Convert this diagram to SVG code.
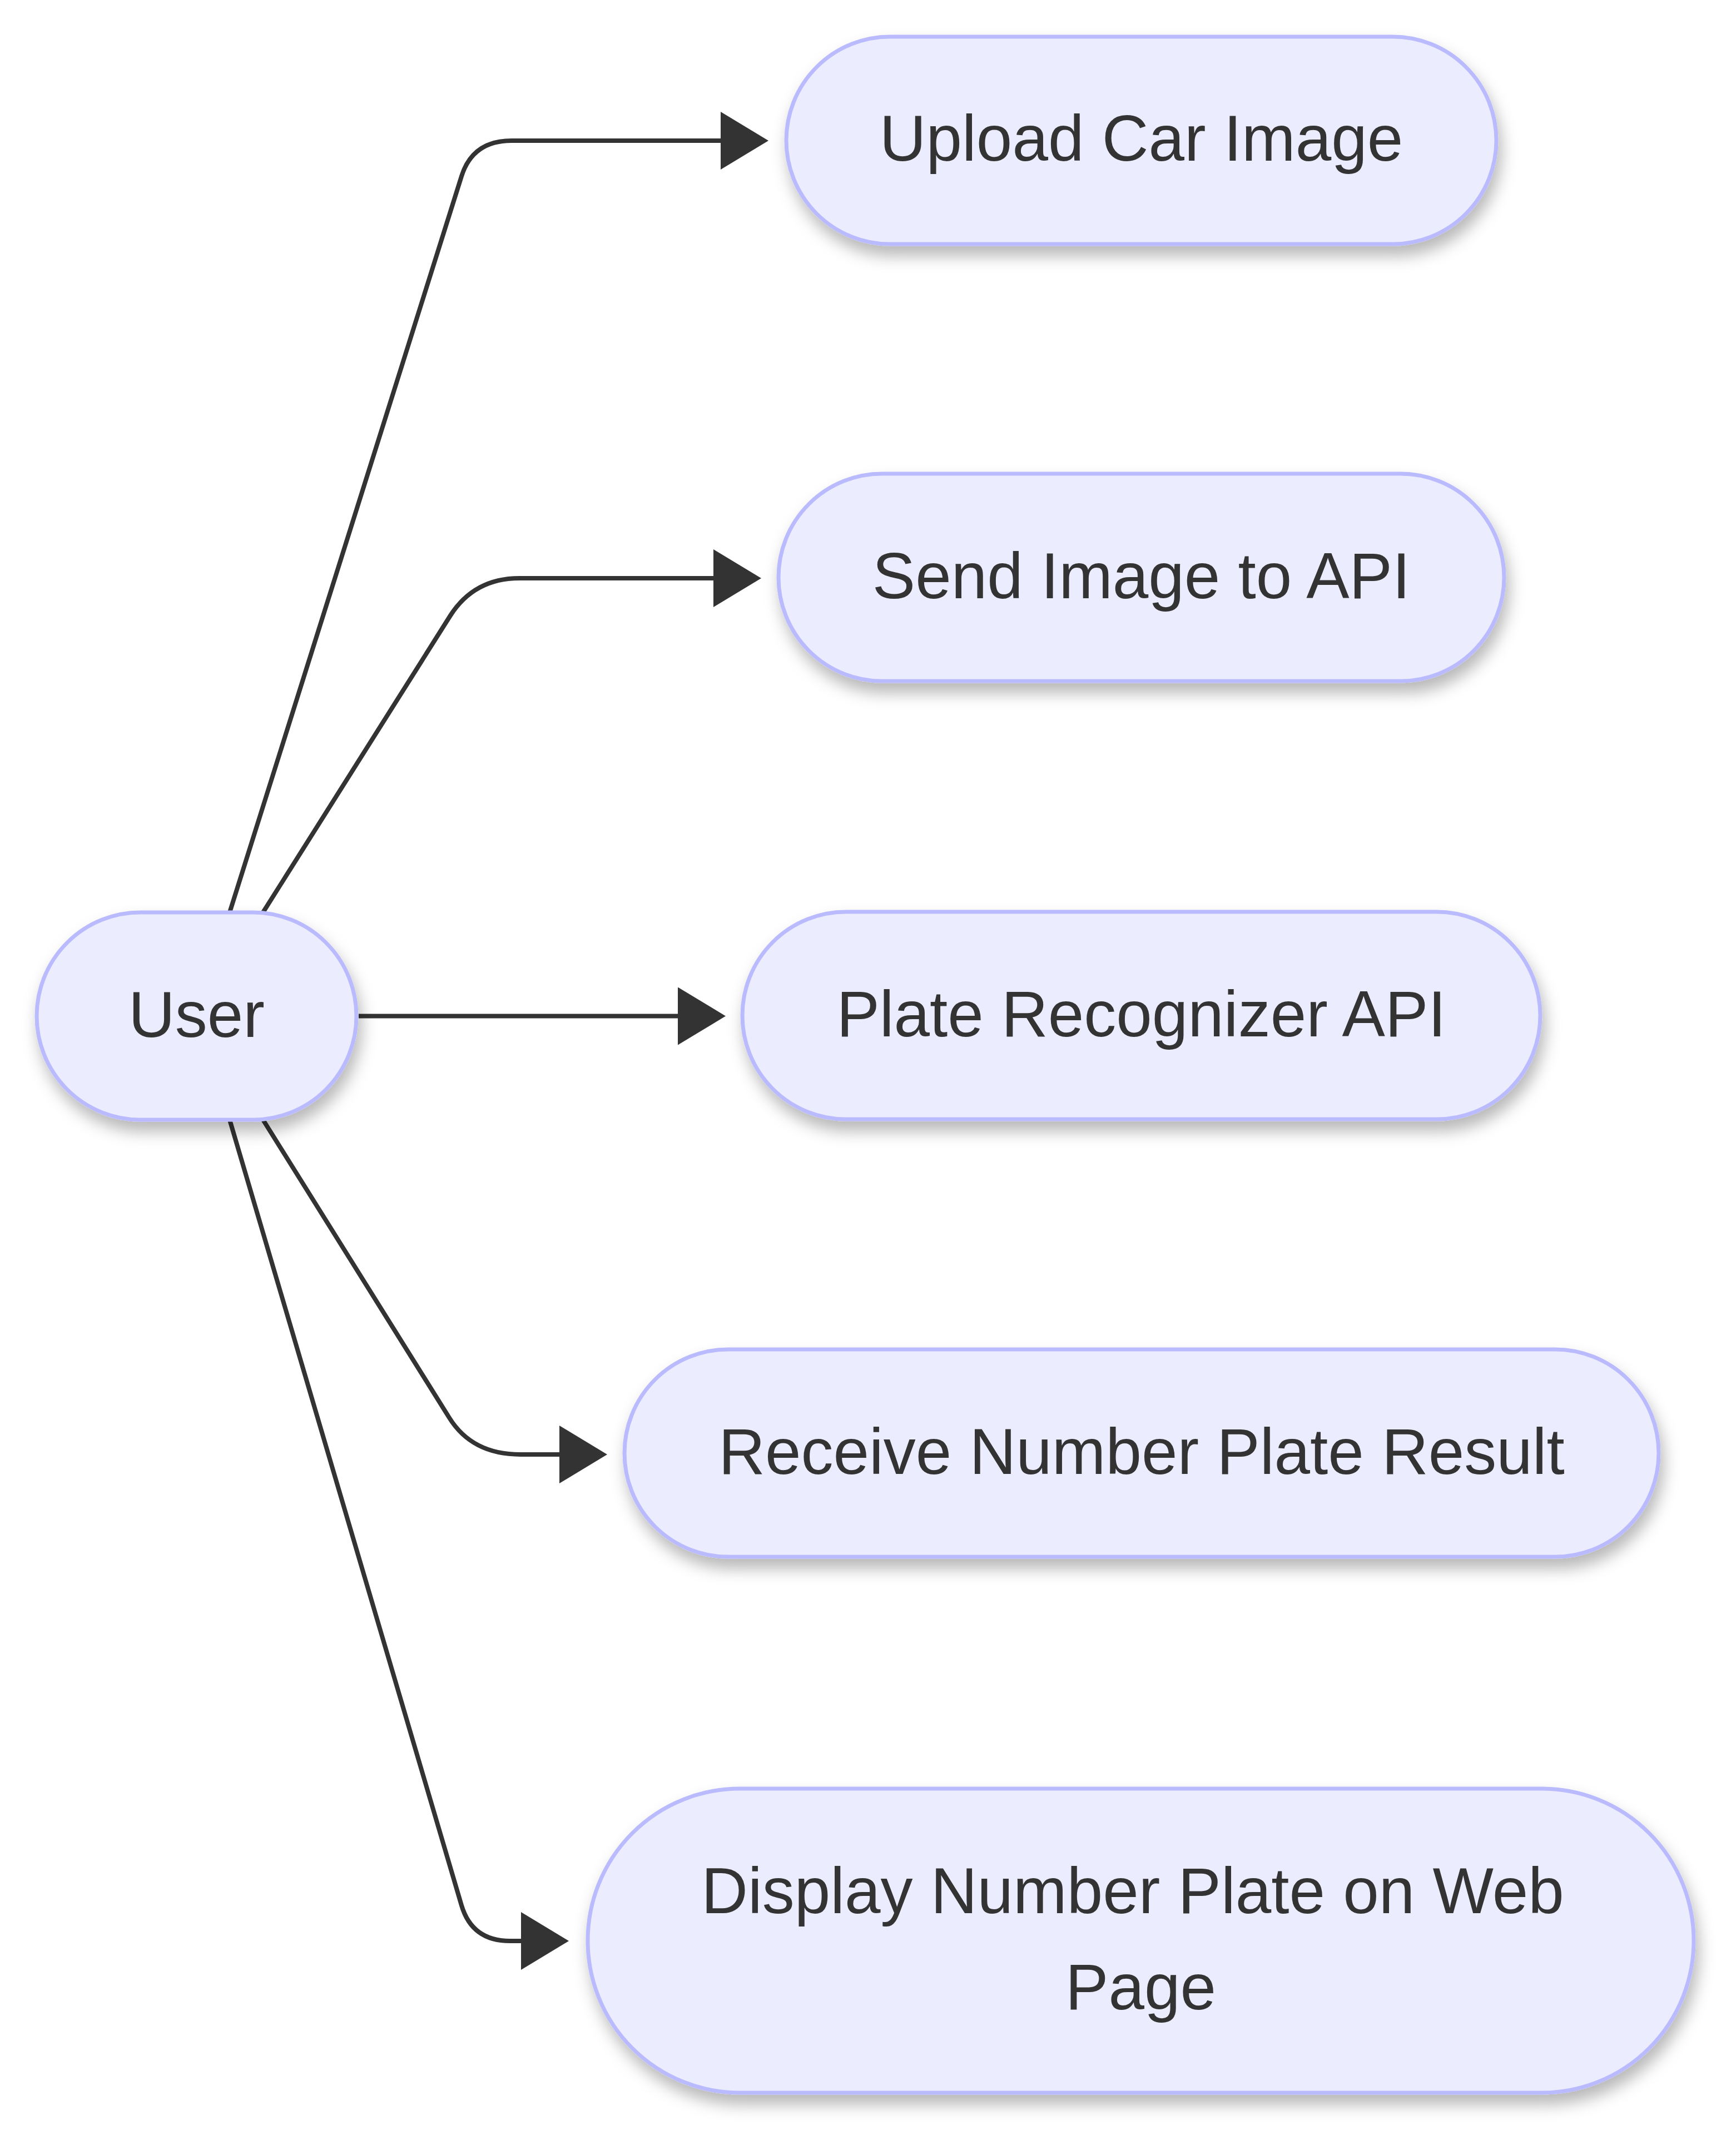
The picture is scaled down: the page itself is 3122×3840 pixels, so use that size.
<svg xmlns="http://www.w3.org/2000/svg" width="3122" height="3840" viewBox="0 0 3122 3840">
  <style>
    .node rect { fill: #ECECFF; stroke: #BABAFF; stroke-width: 7; filter: url(#shadow); }
    .node text { font-family: "Liberation Sans", Arial, sans-serif; font-size: 116px; fill: #333333; text-anchor: middle; }
    .edge { fill: none; stroke: #333333; stroke-width: 8; marker-end: url(#arrow); }
  </style>
  <defs>
    <filter id="shadow" x="-20%" y="-30%" width="140%" height="170%">
      <feDropShadow dx="6" dy="18" stdDeviation="14" flood-color="#000000" flood-opacity="0.28"/>
    </filter>
    <marker id="arrow" viewBox="0 0 86 104" markerUnits="userSpaceOnUse" markerWidth="86" markerHeight="104" refX="4" refY="52" orient="auto">
      <path d="M0,0 L86,52 L0,104 Z" fill="#333333"/>
    </marker>
  </defs>
  <rect x="0" y="0" width="3122" height="3840" fill="#FFFFFF"/>

  <g id="connectors">
    <path class="edge" d="M413,1641 L830,317 Q850,253 920,253 L1300,253"/>
    <path class="edge" d="M473,1641 L810,1107 Q853,1040 934,1040 L1287,1040"/>
    <path class="edge" d="M645,1827.5 L1223,1827.5"/>
    <path class="edge" d="M473,2014 L808,2550 Q849,2616 936,2616 L1010,2616"/>
    <path class="edge" d="M413,2014 L830,3427 Q849,3491 917,3491 L941,3491"/>
  </g>

  <g id="node-user" class="node">
    <rect x="66" y="1641" width="575" height="373" rx="186.5" ry="186.5"/>
    <text x="353.5" y="1865">User</text>
  </g>
  <g id="node-upload" class="node">
    <rect x="1414" y="66" width="1277" height="373" rx="186.5" ry="186.5"/>
    <text x="2052.5" y="289">Upload Car Image</text>
  </g>
  <g id="node-send" class="node">
    <rect x="1400" y="852" width="1305" height="373" rx="186.5" ry="186.5"/>
    <text x="2052.5" y="1075.5">Send Image to API</text>
  </g>
  <g id="node-plate" class="node">
    <rect x="1335" y="1640" width="1435" height="373" rx="186.5" ry="186.5"/>
    <text x="2052.5" y="1864">Plate Recognizer API</text>
  </g>
  <g id="node-receive" class="node">
    <rect x="1123" y="2427" width="1860" height="373" rx="186.5" ry="186.5"/>
    <text x="2053" y="2651">Receive Number Plate Result</text>
  </g>
  <g id="node-display" class="node">
    <rect x="1057" y="3217" width="1989" height="547" rx="273.5" ry="273.5"/>
    <text x="2037" y="3441">Display Number Plate on Web</text>
    <text x="2051.5" y="3614">Page</text>
  </g>
</svg>
